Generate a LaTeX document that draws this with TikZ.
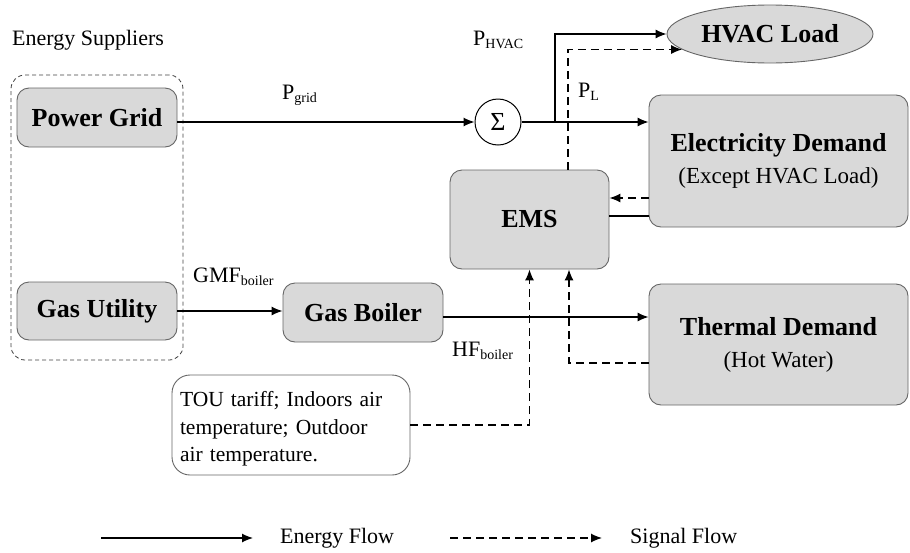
\documentclass[tikz,border=0pt]{standalone}
\usepackage{fontspec}
\setmainfont{Liberation Serif}
\usetikzlibrary{arrows.meta,shapes.geometric}
\newcommand{\subt}[1]{\raisebox{-0.3ex}{\fontsize{14}{14}\selectfont #1}}
\begin{document}
\begin{tikzpicture}[x=1pt,y=-1pt,
  box/.style={draw=black!60, fill=black!15, rounded corners=12pt, line width=0.9pt,
    font=\fontsize{26}{30}\selectfont\bfseries, align=center, inner sep=0pt},
  flow/.style={line width=1.2pt, -{Latex[length=11pt,width=9pt]}},
  sig/.style={flow, dash pattern=on 8pt off 5pt},
  lab/.style={font=\fontsize{22}{26}\selectfont, inner sep=0pt, anchor=west}]
\useasboundingbox (0,0) rectangle (910,552);
% supplier group
\node[draw=black!75, dash pattern=on 4pt off 3pt, rounded corners=14pt, line width=0.8pt,
  minimum width=172pt, minimum height=285pt] (grp) at (97,217.5) {};
\node[lab] (es) at (12,40) {Energy Suppliers};
% boxes
\node[box, minimum width=160pt, minimum height=59pt] (pg) at (97,117.5) {Power Grid};
\node[box, minimum width=160pt, minimum height=58pt] (gu) at (97,311) {Gas Utility};
\node[box, minimum width=160pt, minimum height=59pt] (gb) at (363,312.5) {Gas Boiler};
\node[box, minimum width=159pt, minimum height=99pt] (ems) at (529.5,219.5) {EMS};
\node[box, minimum width=259pt, minimum height=132pt] (elec) at (778.5,161)
  {Electricity Demand\\[2pt]{\fontsize{23}{28}\selectfont\mdseries (Except HVAC Load)}};
\node[box, minimum width=259pt, minimum height=121pt] (therm) at (778.5,344.5)
  {Thermal Demand\\[2pt]{\fontsize{23}{28}\selectfont\mdseries (Hot Water)}};
\node[ellipse, draw=black!60, fill=black!15, line width=0.9pt, minimum width=206pt,
  minimum height=58pt, inner sep=0pt, font=\fontsize{26}{30}\selectfont\bfseries] (hvac) at (770,34) {HVAC Load};
\node[circle, draw, line width=1pt, minimum size=46pt, inner sep=0pt,
  font=\fontsize{26}{26}\selectfont] (sum) at (498,122) {Σ};
\node[draw=black!60, line width=0.9pt, rounded corners=18pt, minimum width=238pt,
  minimum height=100pt, inner sep=0pt] (tou) at (291,425) {};
\node[text width=222pt, align=left, inner sep=0pt,
  font=\fontsize{21.5}{27.5}\selectfont] (toutxt) at (291,429) 
  {TOU tariff; Indoors air\\temperature; Outdoor\\air temperature.};
% labels
\node[lab] (pgl) at (282,95) {P\subt{grid}};
\node[lab] (phl) at (473,40) {P\subt{HVAC}};
\node[lab] (pll) at (578,92) {P\subt{L}};
\node[lab] (gmf) at (193,277) {GMF\subt{boiler}};
\node[lab] (hfl) at (452,351) {HF\subt{boiler}};
% helper coordinates
\coordinate (jn) at (555,122);
\coordinate (sx) at (568,0);
\coordinate (sx2) at (569,0);
\coordinate (y198) at (0,198);
\coordinate (y216) at (0,216);
\coordinate (y317) at (0,317);
\coordinate (y363) at (0,363);
% energy flows
\draw[flow] (pg.east |- sum) -- (sum.west);
\draw[flow] (sum.east) -- (elec.west |- sum);
\draw[flow] (jn) |- (hvac.west);
\draw[flow] (gu.east) -- (gb.west |- gu.east);
\draw[flow] (gb.east |- y317) -- (therm.west |- y317);
\draw[line width=1.2pt] (ems.east |- y216) -- (elec.west |- y216);
% signal flows
\draw[sig] (sx |- ems.north) |- (hvac.190);
\draw[sig] (elec.west |- y198) -- (ems.east |- y198);
\draw[sig] (tou.east) -| (ems.south);
\draw[sig] (therm.west |- y363) -| (sx2 |- ems.south);
% legend
\coordinate (l1) at (101,538);
\coordinate (l2) at (253,538);
\coordinate (l3) at (450,538);
\coordinate (l4) at (602,538);
\draw[flow] (l1) -- (l2);
\node[lab] (ef) at (280,538) {Energy Flow};
\draw[sig] (l3) -- (l4);
\node[lab] (sf) at (630,538) {Signal Flow};
\end{tikzpicture}
\end{document}
